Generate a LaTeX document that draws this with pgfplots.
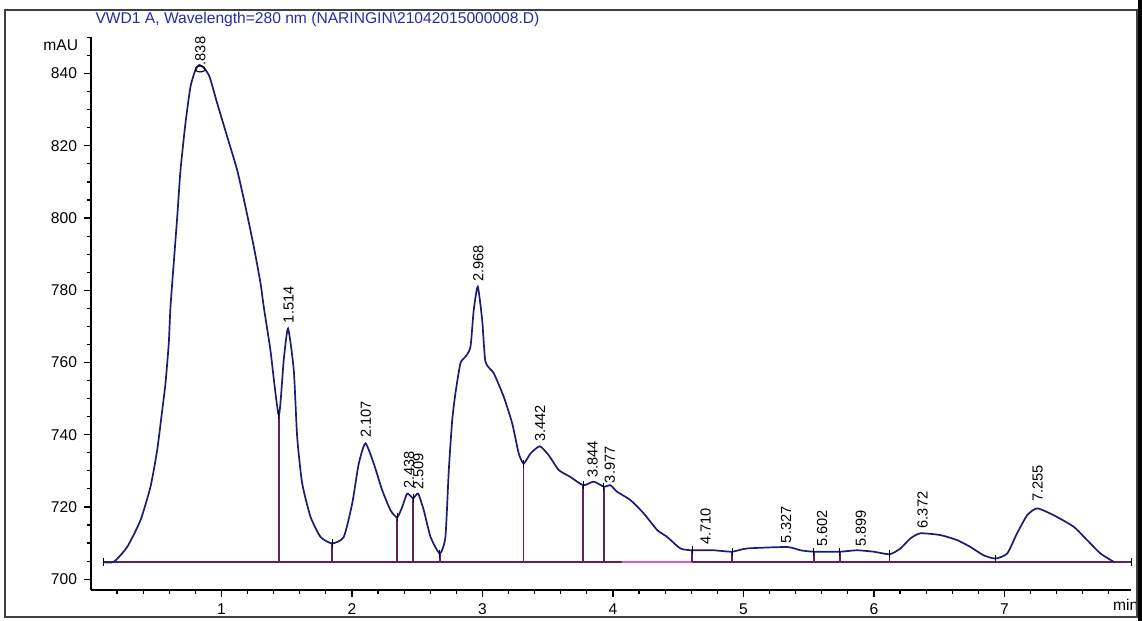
\documentclass[border=0pt]{standalone}
\usepackage{fontspec}
\setmainfont{Liberation Sans}
\usepackage{pgfplots}
\pgfplotsset{compat=1.18}

\definecolor{trace}{RGB}{28,28,115}
\definecolor{baseln}{RGB}{100,30,100}
\definecolor{hilite}{RGB}{215,90,215}
\definecolor{ttl}{RGB}{35,45,165}

% signal trace: retention time (min) vs absorbance (mAU)
\pgfplotstableread{
t v
0.096 704.7
0.175 704.8
0.277 708.9
0.379 716.3
0.456 725.6
0.507 735.7
0.546 746.8
0.571 754.3
0.596 765.3
0.609 775.4
0.634 787.5
0.661 800.4
0.686 813.3
0.724 826.3
0.762 836.3
0.800 841.0
0.830 842.4
0.870 841.4
0.910 839.0
0.967 831.8
1.044 822.5
1.120 813.3
1.184 803.1
1.248 792.0
1.299 782.0
1.324 775.4
1.375 763.4
1.439 745.4
1.477 760.7
1.510 769.4
1.554 757.9
1.580 739.4
1.618 726.6
1.682 717.3
1.759 711.7
1.848 709.9
1.937 711.7
2.002 721.0
2.052 732.0
2.103 737.6
2.167 732.0
2.231 724.7
2.295 719.1
2.346 717.1
2.385 720.0
2.423 723.7
2.469 722.4
2.507 723.7
2.550 719.1
2.602 711.7
2.673 707.1
2.716 711.7
2.742 730.2
2.768 744.0
2.793 751.5
2.831 759.8
2.870 761.6
2.908 764.3
2.933 774.5
2.964 781.0
2.998 771.7
3.023 760.2
3.087 757.0
3.163 750.5
3.228 743.1
3.278 734.8
3.316 732.0
3.368 734.8
3.439 736.8
3.508 734.3
3.585 730.2
3.674 728.3
3.772 726.0
3.853 727.0
3.930 725.6
3.981 726.0
4.032 724.2
4.134 721.9
4.236 718.2
4.339 713.6
4.415 711.7
4.517 708.5
4.607 708.0
4.772 708.0
4.913 707.6
5.028 708.5
5.335 708.9
5.437 708.0
5.539 707.6
5.738 707.6
5.871 708.0
5.998 707.6
6.121 706.9
6.203 708.5
6.280 711.3
6.356 712.7
6.510 712.2
6.638 710.8
6.740 708.9
6.841 706.6
6.931 705.7
7.021 707.1
7.097 712.7
7.174 717.7
7.251 719.6
7.378 717.7
7.531 714.5
7.634 710.8
7.736 707.1
7.838 704.8
}\trace

% integration split points: time, signal value
\pgfplotstableread{
t v
1.439 745.4
1.848 709.9
2.346 717.1
2.469 722.4
2.673 707.1
3.316 732.0
3.772 726.0
3.930 725.6
4.607 708.0
4.913 707.6
5.539 707.6
5.738 707.6
6.121 706.9
6.931 705.7
}\splits

\newcommand{\drop}[2]{\addplot[baseln, line width=0.75pt] coordinates {(#1,704.7) (#1,#2)};}
\newcommand{\rt}[3]{\node[rotate=90, anchor=west, inner sep=0pt, font=\fontsize{7.3}{8}\selectfont] at (axis cs:#1,#2) {#3};}

\begin{document}
\begin{tikzpicture}
\path[use as bounding box] (-45.5pt,-15.5pt) rectangle (525.5pt,295pt);
\begin{axis}[
  at={(0,0)}, anchor=south west,
  scale only axis, width=520pt, height=276.25pt,
  xmin=0, xmax=7.97, ymin=697, ymax=850,
  axis lines*=left,
  axis line style={black, line width=0.6pt},
  tick style={black, line width=0.6pt},
  tick align=outside,
  major tick length=3.5pt, minor tick length=2.2pt,
  xtick={1,2,3,4,5,6,7},
  ytick={700,720,740,760,780,800,820,840},
  minor xtick={0.2,0.4,0.6,0.8,1.2,1.4,1.6,1.8,2.2,2.4,2.6,2.8,3.2,3.4,3.6,3.8,4.2,4.4,4.6,4.8,5.2,5.4,5.6,5.8,6.2,6.4,6.6,6.8,7.2,7.4,7.6,7.8},
  minor ytick={705,710,715,725,730,735,745,750,755,765,770,775,785,790,795,805,810,815,825,830,835,845,850},
  tick label style={font=\fontsize{7.8}{9}\selectfont},
  /pgf/number format/assume math mode=true,
  clip=false,
]
% baseline and its highlighted stretch
\addplot[baseln, line width=0.75pt] coordinates {(0.096,704.7) (7.97,704.7)};
\addplot[hilite, line width=0.9pt] coordinates {(4.07,704.7) (4.607,704.7)};
% drop lines at the peak splits
\drop{1.439}{745.4}
\drop{1.848}{709.9}
\drop{2.346}{717.1}
\drop{2.469}{722.4}
\drop{2.673}{707.1}
\drop{3.316}{732.0}
\drop{3.772}{726.0}
\drop{3.930}{725.6}
\drop{4.607}{708.0}
\drop{4.913}{707.6}
\drop{5.539}{707.6}
\drop{5.738}{707.6}
\drop{6.121}{706.9}
\drop{6.931}{705.7}
% signal
\addplot[trace, line width=0.85pt, smooth, tension=0.35] table[x=t, y=v] {\trace};
% split markers
\addplot[only marks, mark=|, mark size=2pt, black, mark options={line width=0.5pt}] table[x=t, y=v] {\splits};
\addplot[only marks, mark=|, mark size=2pt, black, mark options={line width=0.5pt}] coordinates {(0.096,704.7) (7.97,704.7)};
% retention time labels
\node[rotate=90, anchor=east, inner sep=0pt, font=\fontsize{7.3}{8}\selectfont] at (axis cs:0.838,850.3) {0.838};
\rt{1.514}{770.8}{1.514}
\rt{2.107}{739.0}{2.107}
\rt{2.438}{725.1}{2.438}
\rt{2.509}{724.7}{2.509}
\rt{2.968}{782.3}{2.968}
\rt{3.442}{738.0}{3.442}
\rt{3.844}{728.0}{3.844}
\rt{3.977}{726.5}{3.977}
\rt{4.710}{709.4}{4.710}
\rt{5.327}{709.9}{5.327}
\rt{5.602}{708.9}{5.602}
\rt{5.899}{708.9}{5.899}
\rt{6.372}{714.0}{6.372}
\rt{7.255}{721.4}{7.255}
% unit labels
\node[anchor=east, inner sep=0pt, font=\fontsize{7.8}{9}\selectfont] at (axis cs:-0.096,847.9) {mAU};
\node[anchor=base, inner sep=0pt, font=\fontsize{7.8}{9}\selectfont, yshift=-10.25pt] at (axis cs:7.93,697) {min};
\end{axis}
% title and frame
\node[ttl, font=\fontsize{7.8}{9}\selectfont] at (113.25pt,285.5pt) {VWD1 A, Wavelength=280 nm (NARINGIN\textbackslash 21042015000008.D)};
\draw[line width=0.8pt, black!75] (-43pt,-13.5pt) rectangle (523pt,290pt);
\draw[line width=2pt, black] (524.5pt,-15.5pt) -- (524.5pt,295pt);
\end{tikzpicture}
\end{document}
